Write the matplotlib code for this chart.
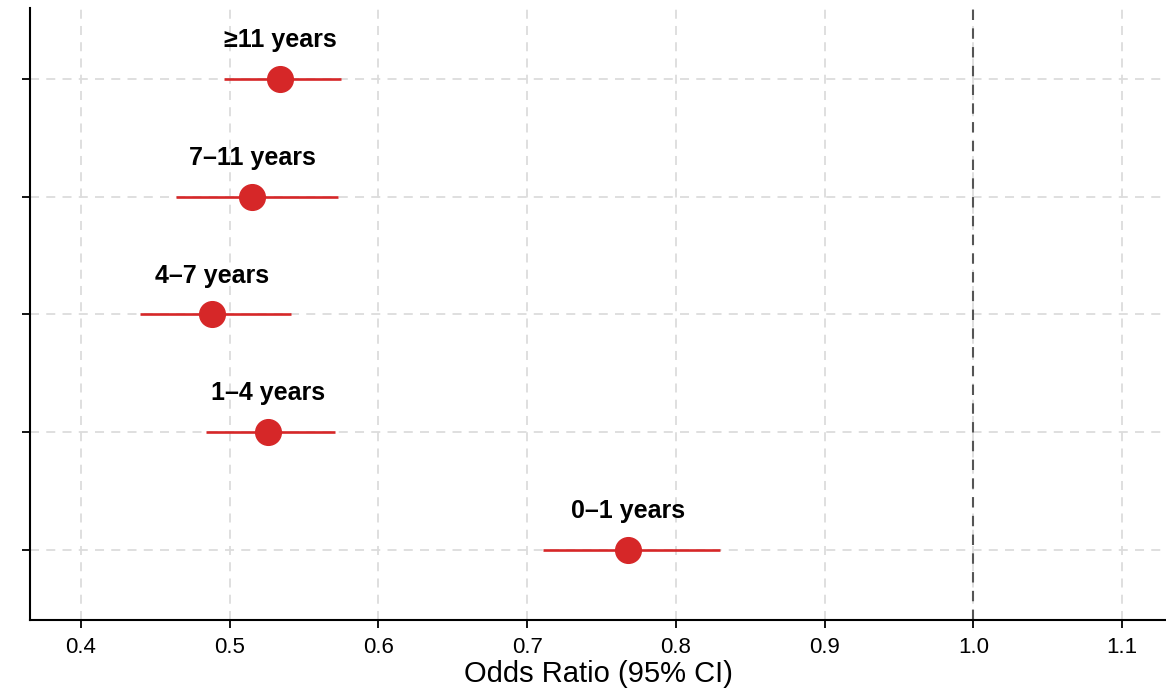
import matplotlib.pyplot as plt

plt.rcParams['font.family'] = ['Liberation Sans', 'DejaVu Sans']

groups = ['0–1 years', '1–4 years', '4–7 years', '7–11 years', '≥11 years']
odds = [0.768, 0.526, 0.488, 0.515, 0.534]
ci_low = [0.711, 0.484, 0.440, 0.464, 0.496]
ci_high = [0.830, 0.571, 0.541, 0.573, 0.575]

RED = '#d62728'

fig = plt.figure(figsize=(11.66, 6.91), dpi=100)
ax = fig.add_axes([30 / 1166, 1 - 620 / 691, 1 - 30 / 1166, (620 - 8) / 691])

ypos = list(range(1, len(groups) + 1))
ax.hlines(ypos, ci_low, ci_high, color=RED, lw=1.9, zorder=3)
ax.plot(odds, ypos, 'o', color=RED, ms=18.5, zorder=4)
for x, y, g in zip(odds, ypos, groups):
    ax.text(x, y + 0.33, g, ha='center', va='center', fontsize=18, fontweight='bold')

ax.axvline(1.0, color='#555555', ls=(0, (5, 4)), lw=1.5, zorder=2)

ax.set_xlim(0.3657, 1.1296)
ax.set_ylim(0.407, 5.6)
ax.set_xticks([0.4, 0.5, 0.6, 0.7, 0.8, 0.9, 1.0, 1.1])
ax.set_yticks(ypos)
ax.set_yticklabels([])
ax.grid(True, color='#dcdcdc', ls=(0, (5, 4)), lw=1.3, zorder=0)
ax.set_axisbelow(True)
ax.spines['top'].set_visible(False)
ax.spines['right'].set_visible(False)
ax.spines['left'].set_linewidth(1.5)
ax.spines['bottom'].set_linewidth(1.5)
ax.tick_params(length=6, width=1.3, labelsize=16, color='black', pad=6)
ax.set_xlabel('Odds Ratio (95% CI)', fontsize=21, labelpad=2)

fig.savefig('out.png', dpi=100)
